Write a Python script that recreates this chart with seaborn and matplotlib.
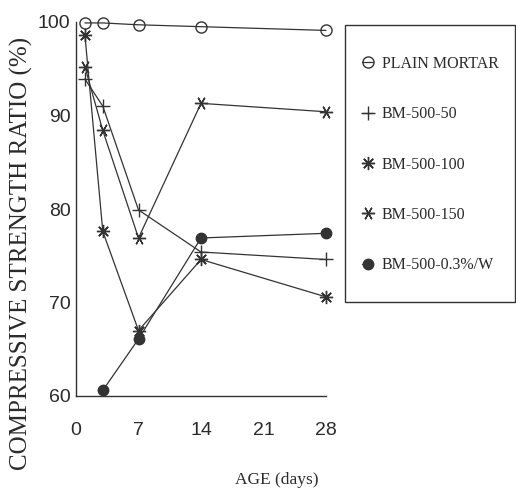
import matplotlib
matplotlib.use("Agg")
import matplotlib.pyplot as plt
import seaborn as sns
from matplotlib.patches import Rectangle

# ---- data ----
days = [1, 3, 7, 14, 28]
plain_mortar = [99.9, 99.9, 99.7, 99.5, 99.1]
bm_500_50 = [93.9, 91.0, 79.9, 75.4, 74.6]
bm_500_100 = [98.6, 77.6, 67.0, 74.6, 70.6]
bm_500_150 = [95.2, 88.4, 76.9, 91.3, 90.4]
days_w = [3, 7, 14, 28]
bm_500_w = [60.6, 66.1, 76.9, 77.4]

series_labels = ["PLAIN MORTAR", "BM-500-50", "BM-500-100", "BM-500-150", "BM-500-0.3%/W"]
x_ticks = [0, 7, 14, 21, 28]
y_ticks = [60, 70, 80, 90, 100]

sns.set_theme(style="white")
plt.rcParams["font.family"] = ["Liberation Serif", "DejaVu Serif"]

W, H = 516, 493
fig = plt.figure(figsize=(W / 100, H / 100), dpi=100)
ax = fig.add_axes([76 / W, 1 - 396 / H, (326 - 76) / W, (396 - 22) / H])

ink = "#333333"
lw = 0.9
common = dict(ax=ax, color=ink, linewidth=lw, clip_on=False, markeredgewidth=1.0)

sns.lineplot(x=days, y=plain_mortar, marker="o", markersize=8, markerfacecolor="none",
             markeredgecolor=ink, label=series_labels[0], **common)
sns.lineplot(x=days, y=bm_500_50, marker="+", markersize=10,
             markeredgecolor=ink, label=series_labels[1], **common)
sns.lineplot(x=days, y=bm_500_100, marker=(8, 2, 0), markersize=9.5,
             markeredgecolor=ink, label=series_labels[2], **common)
sns.lineplot(x=days, y=bm_500_150, marker=(6, 2, 90), markersize=9.5,
             markeredgecolor=ink, label=series_labels[3], **common)
sns.lineplot(x=days_w, y=bm_500_w, marker="o", markersize=7.5, markerfacecolor=ink,
             markeredgecolor=ink, label=series_labels[4], **common)

ax.set_xlim(0, 28)
ax.set_ylim(60, 100)
ax.set_xticks(x_ticks)
ax.set_yticks(y_ticks)
ax.set_xlabel("")
ax.set_ylabel("")
for s in ["top", "right"]:
    ax.spines[s].set_visible(False)
for s in ["left", "bottom"]:
    ax.spines[s].set_color(ink)
    ax.spines[s].set_linewidth(1.0)

tickfont = ["Liberation Sans", "DejaVu Sans"]
ax.tick_params(axis="both", direction="in", length=5, width=0.9, color=ink,
               labelcolor="#2a2a2a", labelsize=14)
ax.tick_params(axis="x", pad=19)
ax.tick_params(axis="y", pad=4)
for t in ax.get_yticklabels() + ax.get_xticklabels():
    t.set_family(tickfont)

# axis titles
fig.text(21 / W, 1 - 253 / H, "COMPRESSIVE STRENGTH RATIO (%)", rotation=90,
         ha="center", va="center", fontsize=18, color="#2a2a2a")
fig.text(277 / W, 1 - 480 / H, "AGE (days)", ha="center", va="center",
         fontsize=12.5, color="#2a2a2a")

# legend box
fig.patches.append(Rectangle((345 / W, 1 - 302 / H), (515 - 345) / W, (302 - 25) / H,
                             transform=fig.transFigure, fill=False,
                             edgecolor=ink, linewidth=1.0))
handles, labels = ax.get_legend_handles_labels()
leg = ax.legend(handles, labels, loc="upper left",
                bbox_to_anchor=(362 / W, 1 - 56 / H), bbox_transform=fig.transFigure,
                frameon=False, borderpad=0, borderaxespad=0, handlelength=0.7,
                handletextpad=0.55, labelspacing=2.15, fontsize=11.5)
for t in leg.get_texts():
    t.set_color("#2a2a2a")

fig.savefig("out.png", dpi=100, facecolor="white")
